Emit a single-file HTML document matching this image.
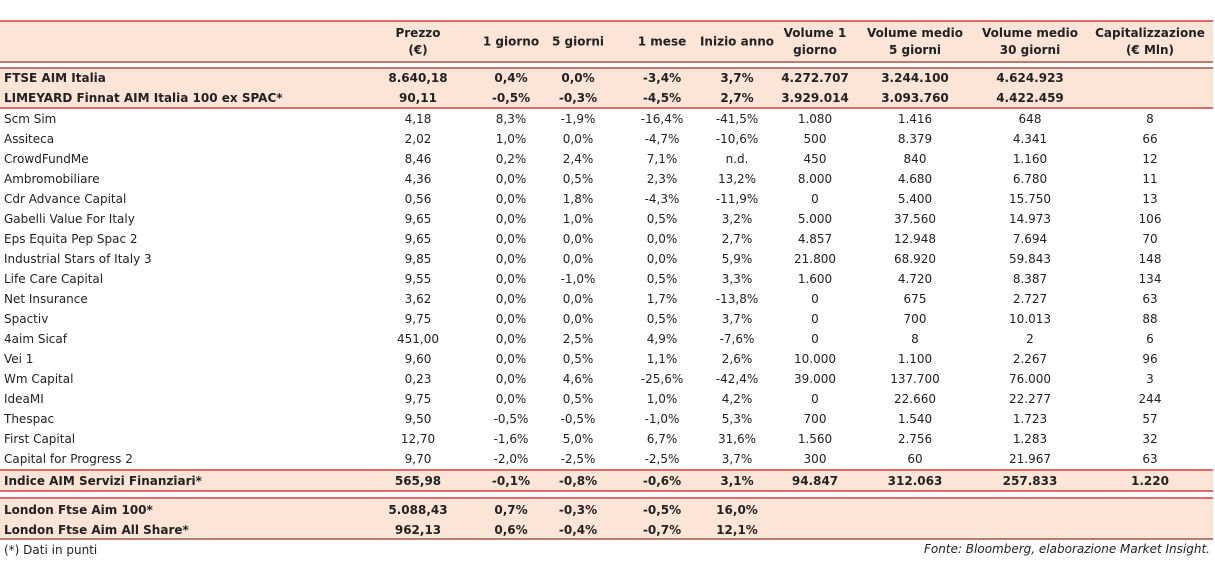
<!DOCTYPE html>
<html><head><meta charset="utf-8"><style>
body{margin:0;width:1215px;height:561px;background:#fff;position:relative;overflow:hidden;font-family:"DejaVu Sans","Liberation Sans",sans-serif;color:#222}
.bg{position:absolute;left:0;width:1213px;background:#fce4d6}
.ln{position:absolute;left:0;width:1213px;height:2px;background:#e06a6a}
.ln.d{background:#c07a72}
.c{position:absolute;font-size:12px;white-space:nowrap;transform:translate(-50%,-50%);text-align:center}
.l{position:absolute;font-size:12px;white-space:nowrap;transform:translateY(-50%);left:4px}
.b{font-weight:bold}
.h{font-weight:bold;font-size:12px;line-height:17px}
</style></head><body>
<div class="bg" style="top:21px;height:42px"></div>
<div class="bg" style="top:68px;height:40px"></div>
<div class="bg" style="top:470px;height:21px"></div>
<div class="bg" style="top:498px;height:41px"></div>
<div class="ln" style="top:20px"></div>
<div class="ln d" style="top:61px"></div>
<div class="ln d" style="top:67px"></div>
<div class="ln" style="top:107px"></div>
<div class="ln" style="top:469px"></div>
<div class="ln" style="top:490px"></div>
<div class="ln" style="top:497px"></div>
<div class="ln d" style="top:538px"></div>
<div id="t"></div>
<div class="l" style="top:550px">(*) Dati in punti</div>
<div style="position:absolute;right:5px;top:542px;font-size:12px;font-style:italic">Fonte: Bloomberg, elaborazione Market Insight.</div>
<script>
const colX=[418,511,578,662,737,815,915,1030,1150];
const headers=["Prezzo<br>(€)","1 giorno","5 giorni","1 mese","Inizio anno","Volume 1<br>giorno","Volume medio<br>5 giorni","Volume medio<br>30 giorni","Capitalizzazione<br>(€ Mln)"];
const topRows=[
["FTSE AIM Italia","8.640,18","0,4%","0,0%","-3,4%","3,7%","4.272.707","3.244.100","4.624.923",""],
["LIMEYARD Finnat AIM Italia 100 ex SPAC*","90,11","-0,5%","-0,3%","-4,5%","2,7%","3.929.014","3.093.760","4.422.459",""]];
const rows=[
["Scm Sim","4,18","8,3%","-1,9%","-16,4%","-41,5%","1.080","1.416","648","8"],
["Assiteca","2,02","1,0%","0,0%","-4,7%","-10,6%","500","8.379","4.341","66"],
["CrowdFundMe","8,46","0,2%","2,4%","7,1%","n.d.","450","840","1.160","12"],
["Ambromobiliare","4,36","0,0%","0,5%","2,3%","13,2%","8.000","4.680","6.780","11"],
["Cdr Advance Capital","0,56","0,0%","1,8%","-4,3%","-11,9%","0","5.400","15.750","13"],
["Gabelli Value For Italy","9,65","0,0%","1,0%","0,5%","3,2%","5.000","37.560","14.973","106"],
["Eps Equita Pep Spac 2","9,65","0,0%","0,0%","0,0%","2,7%","4.857","12.948","7.694","70"],
["Industrial Stars of Italy 3","9,85","0,0%","0,0%","0,0%","5,9%","21.800","68.920","59.843","148"],
["Life Care Capital","9,55","0,0%","-1,0%","0,5%","3,3%","1.600","4.720","8.387","134"],
["Net Insurance","3,62","0,0%","0,0%","1,7%","-13,8%","0","675","2.727","63"],
["Spactiv","9,75","0,0%","0,0%","0,5%","3,7%","0","700","10.013","88"],
["4aim Sicaf","451,00","0,0%","2,5%","4,9%","-7,6%","0","8","2","6"],
["Vei 1","9,60","0,0%","0,5%","1,1%","2,6%","10.000","1.100","2.267","96"],
["Wm Capital","0,23","0,0%","4,6%","-25,6%","-42,4%","39.000","137.700","76.000","3"],
["IdeaMI","9,75","0,0%","0,5%","1,0%","4,2%","0","22.660","22.277","244"],
["Thespac","9,50","-0,5%","-0,5%","-1,0%","5,3%","700","1.540","1.723","57"],
["First Capital","12,70","-1,6%","5,0%","6,7%","31,6%","1.560","2.756","1.283","32"],
["Capital for Progress 2","9,70","-2,0%","-2,5%","-2,5%","3,7%","300","60","21.967","63"]];
const sectorRow=["Indice AIM Servizi Finanziari*","565,98","-0,1%","-0,8%","-0,6%","3,1%","94.847","312.063","257.833","1.220"];
const londonRows=[
["London Ftse Aim 100*","5.088,43","0,7%","-0,3%","-0,5%","16,0%","","","",""],
["London Ftse Aim All Share*","962,13","0,6%","-0,4%","-0,7%","12,1%","","","",""]];
const T=document.getElementById('t');
headers.forEach((h,i)=>{const d=document.createElement('div');d.className='c h';d.style.left=colX[i]+'px';d.style.top='42px';d.innerHTML=h;


T.appendChild(d);});
function addRow(r,y,bold,name){
 const n=document.createElement('div');n.className='l'+(bold?' b':'');n.style.top=y+'px';n.textContent=r[0];
 
 
 T.appendChild(n);
 for(let i=1;i<r.length;i++){if(!r[i])continue;const c=document.createElement('div');c.className='c'+(bold?' b':'');c.style.left=colX[i-1]+'px';c.style.top=y+'px';c.textContent=r[i];
 
 
 T.appendChild(c);}
}
topRows.forEach((r,i)=>addRow(r,78+i*20,true,'index-row'));
rows.forEach((r,i)=>addRow(r,119+i*20,false,'stock-row'));
addRow(sectorRow,481,true,'sector-index-row');
londonRows.forEach((r,i)=>addRow(r,510+i*20,true,'london-row'));
</script>
</body></html>
